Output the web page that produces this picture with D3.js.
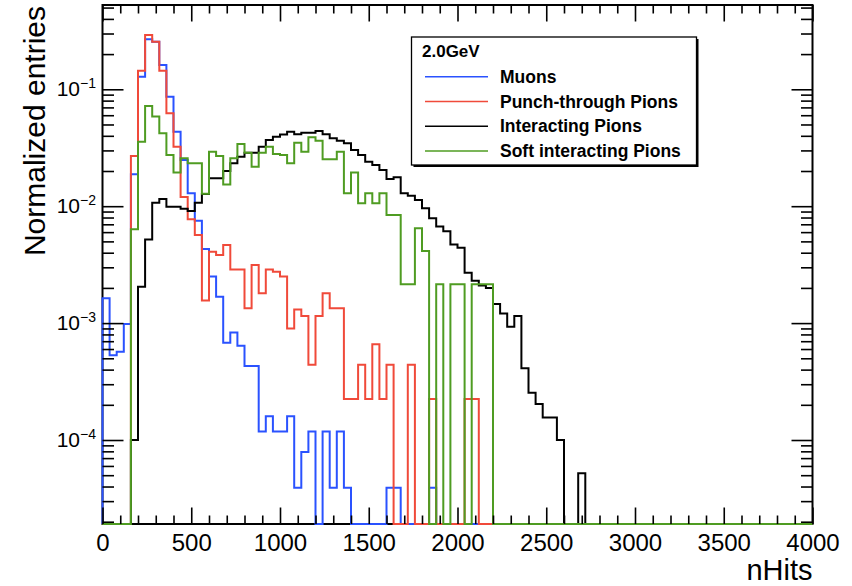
<!DOCTYPE html>
<html>
<head>
<meta charset="utf-8">
<script src="https://cdn.jsdelivr.net/npm/d3@7"></script>
<style>
  body { margin: 0; background: #fff; }
  text { font-family: "Liberation Sans", Arial, Helvetica, sans-serif; }
</style>
</head>
<body>
<div id="chart"></div>
<script>
// 100 bins of 40 hits each, 0..4000; bins not listed are empty
const binWidth = 40;
const nBins = 100;

// normalized entries per bin (bin 0 = 0-40 hits)
const muons = [
  1.63e-3, 5.3e-4, 5.7e-4, 9.8e-4, 0.0188, 0.128, 0.268, 0.255, 0.161, 0.0865,
  0.0434, 0.0248, 0.0129, 0.0075, 0.0043, 0.0025, 0.00168, 6.8e-4, 8.3e-4, 6.4e-4,
  4.3e-4, 4.3e-4, 1.18e-4, 1.6e-4, 1.18e-4, 1.18e-4, 1.6e-4, 3.9e-5, 7.9e-5, 1.18e-4,
  0, 1.18e-4, 3.9e-5, 1.18e-4, 3.9e-5, 0, 0, 0, 0, 0,
  3.9e-5, 3.9e-5, 0, 0, 0, 0, 3.9e-5
];
const punchThrough = [
  0, 0, 0, 0, 0.0269, 0.144, 0.291, 0.255, 0.144, 0.0623,
  0.0323, 0.0120, 0.00773, 0.00568, 0.00156, 0.00408, 0.00383, 0.00466, 0.00288, 0.00288,
  0.00134, 0.00314, 0.0018, 0.00288, 0.00275, 0.0025, 9.0e-4, 1.31e-3, 1.15e-3, 4.4e-4,
  1.15e-3, 1.8e-3, 1.34e-3, 1.34e-3, 2.24e-4, 2.24e-4, 4.4e-4, 2.24e-4, 6.6e-4, 2.24e-4,
  4.4e-4, 0, 0, 4.4e-4, 0, 0, 2.24e-4, 0, 0, 0,
  0, 2.24e-4, 2.24e-4
];
const interacting = [
  0, 0, 0, 0, 1.0e-4, 2.05e-3, 5.2e-3, 0.0107, 0.0115, 0.0099,
  0.0099, 0.0095, 0.0091, 0.0107, 0.0127, 0.0173, 0.0173, 0.020, 0.0233, 0.0265,
  0.0287, 0.0287, 0.0323, 0.0368, 0.0393, 0.041, 0.0434, 0.0412, 0.0425, 0.0425,
  0.0440, 0.0412, 0.0381, 0.0363, 0.0345, 0.0303, 0.0274, 0.0240, 0.0225, 0.0204,
  0.0171, 0.0177, 0.0129, 0.0123, 0.0113, 0.0096, 0.0079, 0.0067, 0.0061, 0.0047,
  0.0044, 0.0027, 0.0023, 0.0021, 0.0020, 1.46e-3, 1.21e-3, 9.3e-4, 1.15e-3, 4.1e-4,
  2.54e-4, 2.03e-4, 1.56e-4, 1.56e-4, 1.0e-4, 0, 0, 5.2e-5
];
const softInteracting = [
  0, 0, 0, 0, 0.00634, 0.0356, 0.072, 0.0584, 0.042, 0.0274,
  0.0194, 0.0257, 0.0233, 0.0233, 0.0128, 0.0292, 0.0269, 0.0153, 0.0257, 0.034,
  0.0287, 0.0218, 0.0287, 0.0323, 0.028, 0.0274, 0.0233, 0.0349, 0.0292, 0.0388,
  0.0363, 0.0252, 0.0252, 0.0292, 0.0129, 0.0194, 0.0106, 0.0129, 0.0106, 0.0129,
  0.0084, 0.0084, 0.00215, 0.00215, 0.00647, 0.00414, 0, 0.00215, 0, 0.00215,
  0.00215, 0, 0.00215, 0.00215, 0.00215
];

const seriesNames = ["Muons", "Punch-through Pions", "Interacting Pions", "Soft interacting Pions"];
const seriesColors = ["#2a52ff", "#f04a3a", "#000000", "#4f9c22"];
const seriesData = [muons, punchThrough, interacting, softInteracting];

const xTicks = [0, 500, 1000, 1500, 2000, 2500, 3000, 3500, 4000];
const yTickExps = [-1, -2, -3, -4];
const legendTitle = "2.0GeV";

// canvas
const width = 852;
const height = 586;
const plot = { left: 102.5, right: 812.5, top: 5, bottom: 524 };

const svg = d3.select("#chart")
    .append("svg")
    .attr("width", width)
    .attr("height", height);

const x = d3.scaleLinear().domain([0, 4000]).range([plot.left, plot.right]);
const y = d3.scaleLog().domain([1.912e-5, 0.526]).range([plot.bottom, plot.top]).clamp(true);

const yOf = v => v > 0 ? y(v) : plot.bottom; // empty bins sit on the frame

// frame first, the histograms are drawn over it (as ROOT does)
svg.append("rect")
    .attr("x", plot.left)
    .attr("y", plot.top)
    .attr("width", plot.right - plot.left)
    .attr("height", plot.bottom - plot.top)
    .attr("fill", "none")
    .attr("stroke", "#000")
    .attr("stroke-width", 2);

// histogram outlines, step style
seriesData.forEach((vals, s) => {
    const full = d3.range(nBins).map(i => vals[i] || 0);
    const pts = [[x(0), plot.bottom]];
    full.forEach((v, i) => {
        pts.push([x(i * binWidth), yOf(v)]);
        pts.push([x((i + 1) * binWidth), yOf(v)]);
    });
    pts.push([x(nBins * binWidth), plot.bottom]);

    svg.append("path")
        .attr("d", d3.line()(pts))
        .attr("fill", "none")
        .attr("stroke", seriesColors[s])
        .attr("stroke-width", 2)
        .attr("stroke-linejoin", "miter");
});

// axes - ticks point inward on all four sides
const minorX = d3.range(0, 4001, 100).filter(v => v % 500 !== 0);
const majorY = yTickExps.map(e => Math.pow(10, e));
const minorY = [];
[-5, -4, -3, -2, -1].forEach(e => {
    for (let m = 2; m <= 9; m++) {
        const v = m * Math.pow(10, e);
        if (v >= y.domain()[0] && v <= y.domain()[1]) minorY.push(v);
    }
});

function styleAxis(g) {
    g.select(".domain").remove();
    g.selectAll(".tick line").attr("stroke", "#000").attr("stroke-width", 1.6);
}

svg.append("g")
    .attr("transform", `translate(0,${plot.bottom})`)
    .call(d3.axisBottom(x).tickValues(xTicks).tickSize(-16.5).tickPadding(10).tickFormat(d3.format("d")))
    .call(styleAxis)
    .call(g => g.selectAll("text").attr("font-size", 24).attr("fill", "#000").attr("font-family", null));

svg.append("g")
    .attr("transform", `translate(0,${plot.bottom})`)
    .call(d3.axisBottom(x).tickValues(minorX).tickSize(-8.5).tickFormat(""))
    .call(styleAxis);

svg.append("g")
    .attr("transform", `translate(0,${plot.top})`)
    .call(d3.axisTop(x).tickValues(xTicks).tickSize(-16.5).tickFormat(""))
    .call(styleAxis);

svg.append("g")
    .attr("transform", `translate(0,${plot.top})`)
    .call(d3.axisTop(x).tickValues(minorX).tickSize(-8.5).tickFormat(""))
    .call(styleAxis);

svg.append("g")
    .attr("transform", `translate(${plot.left},0)`)
    .call(d3.axisLeft(y).tickValues(majorY).tickSize(-21).tickFormat(""))
    .call(styleAxis);

svg.append("g")
    .attr("transform", `translate(${plot.left},0)`)
    .call(d3.axisLeft(y).tickValues(minorY).tickSize(-11.5).tickFormat(""))
    .call(styleAxis);

svg.append("g")
    .attr("transform", `translate(${plot.right},0)`)
    .call(d3.axisRight(y).tickValues(majorY).tickSize(-21).tickFormat(""))
    .call(styleAxis);

svg.append("g")
    .attr("transform", `translate(${plot.right},0)`)
    .call(d3.axisRight(y).tickValues(minorY).tickSize(-11.5).tickFormat(""))
    .call(styleAxis);

// y tick labels 10^n
yTickExps.forEach(e => {
    const t = svg.append("text")
        .attr("x", 96)
        .attr("y", y(Math.pow(10, e)) + 7)
        .attr("text-anchor", "end")
        .attr("font-size", 21)
        .text("10");
    t.append("tspan")
        .attr("dy", -8)
        .attr("font-size", 14)
        .text("\u2212" + Math.abs(e));
});

// axis titles
svg.append("text")
    .attr("x", plot.right)
    .attr("y", 579.5)
    .attr("text-anchor", "end")
    .attr("font-size", 29)
    .text("nHits");

svg.append("text")
    .attr("transform", `translate(45,6) rotate(-90)`)
    .attr("text-anchor", "end")
    .attr("font-size", 30)
    .text("Normalized entries");

// legend box with shadow
const lg = { x: 411.5, y: 37, w: 285, h: 128 };
svg.append("rect")
    .attr("x", lg.x + 2).attr("y", lg.y + 2)
    .attr("width", lg.w).attr("height", lg.h)
    .attr("fill", "#000");
svg.append("rect")
    .attr("x", lg.x).attr("y", lg.y)
    .attr("width", lg.w).attr("height", lg.h)
    .attr("fill", "#fff")
    .attr("stroke", "#000")
    .attr("stroke-width", 1.3);

svg.append("text")
    .attr("x", 422)
    .attr("y", 57)
    .attr("font-size", 17)
    .attr("font-weight", "bold")
    .text(legendTitle);

seriesNames.forEach((name, i) => {
    const rowY = 76.7 + i * 24.8;
    svg.append("line")
        .attr("x1", 425).attr("x2", 488)
        .attr("y1", rowY).attr("y2", rowY)
        .attr("stroke", seriesColors[i])
        .attr("stroke-width", 1.5);
    svg.append("text")
        .attr("x", 500)
        .attr("y", rowY + 6)
        .attr("font-size", 17.5)
        .attr("font-weight", "bold")
        .text(name);
});
</script>
</body>
</html>
